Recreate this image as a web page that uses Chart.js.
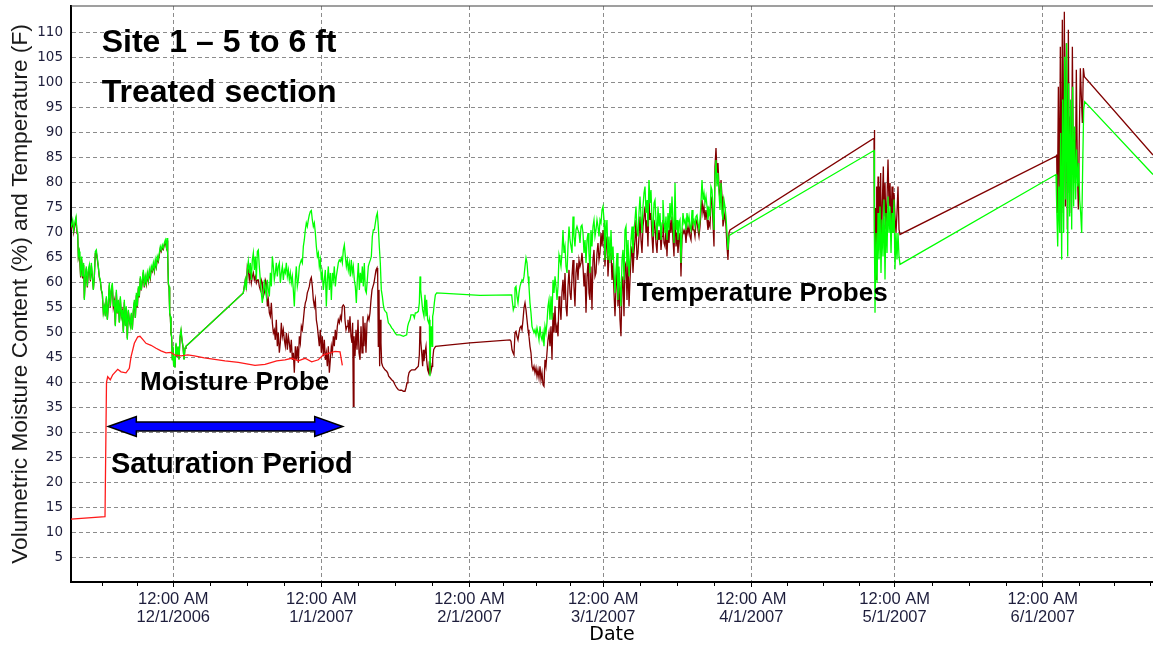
<!DOCTYPE html>
<html>
<head>
<meta charset="utf-8">
<title>Site 1 – 5 to 6 ft, Treated section</title>
<script src="https://cdn.jsdelivr.net/npm/chart.js@4.4.1/dist/chart.umd.min.js"></script>
<style>
  html, body { margin: 0; padding: 0; background: #ffffff; }
  #wrap { width: 1153px; height: 647px; }
</style>
</head>
<body>
<div id="wrap"><canvas id="chart" width="1153" height="647"></canvas></div>
<script>
// Day numbers count from 12:00 AM 11/1/2006 (day 0).
const monthStarts = [0, 30, 61, 92, 120, 151, 181, 212, 242];
const majorTickDays = [30, 61, 92, 120, 151, 181, 212];
const majorTickLabels = [
  ['12:00 AM', '12/1/2006'],
  ['12:00 AM', '1/1/2007'],
  ['12:00 AM', '2/1/2007'],
  ['12:00 AM', '3/1/2007'],
  ['12:00 AM', '4/1/2007'],
  ['12:00 AM', '5/1/2007'],
  ['12:00 AM', '6/1/2007']
];
const yTickValues = [5, 10, 15, 20, 25, 30, 35, 40, 45, 50, 55, 60, 65, 70, 75, 80, 85, 90, 95, 100, 105, 110];

// Volumetric moisture content (%), [day, value]
const moistureProbe = [
  [8.6,12.6],[15.71,13.1],[16.02,40.0],[16.27,41.1],[16.82,40.5],[17.32,41.5],[18.37,42.6],[19.06,42.1],
  [20.10,41.9],[20.80,42.8],[21.15,45.1],[21.85,47.8],[22.56,49.1],[23.04,49.2],[23.60,48.6],[24.29,47.8],
  [25.34,47.4],[26.39,46.8],[27.43,46.3],[28.48,45.9],[29.53,46.0],[30.22,45.5],[31.62,45.3],[33.02,45.5],
  [34.41,45.3],[36.50,44.9],[40.83,44.3],[43.62,44.0],[47.11,43.4],[49.20,43.6],[50.61,44.0],[51.65,44.3],
  [53.39,44.5],[54.79,44.8],[56.18,44.3],[57.58,44.8],[58.98,44.1],[60.37,44.5],[61.42,45.5],[62.46,45.8],
  [63.87,46.2],[64.91,46.1],[65.39,43.4]
];

// Temperature probe (F), green trace, [day, value]
const tempProbeGreen = [
  [8.6,71.0],[8.94,72.5],[9.15,70.5],[9.43,72.2],[9.64,73.1],[9.85,70.2],[9.99,69.9],[10.13,65.2],[10.33,66.2],
  [10.47,64.5],[10.61,61.2],[10.82,65.2],[11.03,61.2],[11.24,63.9],[11.38,56.5],[11.59,61.2],[11.80,63.2],
  [12.01,59.2],[12.22,62.5],[12.43,63.5],[12.64,60.5],[12.85,63.9],[13.06,61.2],[13.27,58.5],[13.47,61.2],
  [13.68,66.2],[13.89,66.5],[14.10,64.9],[14.31,63.2],[14.52,61.2],[14.73,60.5],[14.94,58.5],[15.15,57.9],
  [15.36,53.9],[15.57,55.2],[15.78,53.2],[15.99,57.2],[16.20,52.5],[16.41,55.9],[16.61,59.9],[16.82,55.2],
  [17.03,58.5],[17.24,59.9],[17.45,55.2],[17.66,56.5],[17.87,51.2],[18.08,58.5],[18.29,53.9],[18.50,56.5],
  [18.71,51.9],[18.92,57.2],[19.13,53.2],[19.34,54.5],[19.55,49.9],[19.75,56.5],[19.96,51.2],[20.17,55.2],
  [20.38,48.5],[20.59,54.5],[20.80,52.5],[21.01,51.2],[21.22,53.9],[21.43,50.5],[21.64,54.5],[21.85,56.5],
  [22.06,52.9],[22.27,57.9],[22.48,55.2],[22.69,59.2],[22.89,57.2],[23.10,61.2],[23.31,58.5],[23.52,60.5],
  [23.73,62.5],[23.94,59.2],[24.15,61.2],[24.36,59.9],[24.57,61.9],[24.78,60.5],[24.99,62.5],[25.20,61.2],
  [25.41,63.2],[25.62,62.5],[25.83,63.9],[26.04,62.5],[26.24,64.5],[26.45,63.2],[26.66,65.2],[26.87,64.5],
  [27.08,65.9],[27.29,67.2],[27.50,66.5],[27.71,67.5],[27.92,66.9],[28.13,67.9],[28.34,68.5],[28.55,67.2],
  [28.69,68.9],[28.83,65.9],[28.97,59.9],[29.11,59.2],[29.25,53.9],[29.39,53.2],[29.52,49.9],[29.66,49.2],
  [29.80,44.5],[29.94,47.2],[30.08,43.2],[30.22,45.2],[30.36,42.9],[30.57,47.9],[30.78,45.2],[30.99,47.2],
  [31.20,44.5],[31.41,49.2],[31.62,50.5],[31.83,48.5],[32.04,47.2],[32.25,44.5],[32.46,46.9],[32.66,47.2],
  [44.66,57.9],[44.87,59.2],[45.08,60.5],[45.29,58.5],[45.50,62.5],[45.71,64.2],[45.92,61.9],[46.13,63.9],
  [46.34,60.5],[46.55,64.5],[46.76,65.9],[46.97,62.5],[47.18,65.2],[47.39,60.5],[47.60,66.2],[47.80,66.5],
  [48.01,63.2],[48.22,60.5],[48.43,57.9],[48.64,55.9],[48.85,57.9],[49.06,60.5],[49.27,58.5],[49.48,57.2],
  [49.69,60.5],[49.90,58.5],[50.11,57.2],[50.32,61.9],[50.53,59.2],[50.74,65.2],[50.95,63.2],[51.15,60.5],
  [51.36,61.9],[51.57,63.9],[51.78,61.2],[51.99,63.2],[52.20,63.9],[52.41,59.9],[52.62,61.9],[52.83,63.2],
  [53.04,60.5],[53.25,62.5],[53.46,61.9],[53.67,63.9],[53.88,61.2],[54.09,62.5],[54.29,60.5],[54.50,61.9],
  [54.71,59.9],[54.92,61.2],[55.13,58.5],[55.34,55.2],[55.55,60.5],[55.76,63.2],[55.97,59.2],[56.18,60.5],
  [56.39,63.2],[56.60,63.9],[56.81,64.5],[57.02,63.9],[57.23,67.2],[57.43,68.5],[57.64,70.5],[57.85,71.9],
  [58.06,71.2],[58.27,72.5],[58.48,73.5],[58.69,74.2],[58.90,74.4],[59.11,72.5],[59.32,71.2],[59.53,71.9],
  [59.74,69.9],[59.95,67.2],[60.16,65.2],[60.37,65.9],[60.57,63.2],[60.78,64.5],[60.99,60.5],[61.20,61.9],
  [61.41,58.5],[61.62,60.5],[61.83,62.5],[62.04,55.2],[62.25,60.5],[62.46,63.2],[62.67,58.5],[62.88,61.9],
  [63.09,56.5],[63.30,61.9],[63.51,60.5],[63.71,63.2],[63.92,59.2],[64.13,61.2],[64.34,62.5],[64.55,63.9],
  [64.76,64.5],[64.97,64.2],[65.18,64.9],[65.39,63.9],[65.60,66.5],[65.81,67.5],
  [66.02,65.2],[66.23,63.2],[66.44,64.5],[66.64,62.5],[66.85,63.9],[67.06,61.2],[67.27,64.5],[67.48,61.9],
  [67.69,63.2],[67.90,60.5],[68.11,59.2],[68.32,55.9],[68.53,60.5],[68.74,63.9],[68.95,58.5],[69.16,61.9],
  [69.37,59.9],[69.58,63.2],[69.78,59.2],[69.99,63.9],[70.20,58.5],[70.41,57.9],[70.62,60.5],[70.83,63.2],
  [71.04,63.9],[71.25,64.5],[71.46,65.2],[71.67,69.2],[71.88,70.5],[72.09,70.5],[72.30,71.9],[72.51,73.2],
  [72.72,73.9],[72.92,71.2],[73.13,67.2],[73.34,63.9],[73.55,58.5],[73.76,57.2],[73.97,55.5],[74.18,54.5],
  [74.39,54.2],[74.67,53.9],[75.02,51.9],[75.37,51.5],[75.72,50.9],[76.06,50.5],[76.41,49.9],[76.76,49.5],
  [77.46,49.5],[78.16,49.2],[78.86,49.5],[79.07,51.2],[79.27,51.9],[79.55,52.5],[79.76,53.5],[80.25,53.5],
  [80.46,52.9],[80.67,53.9],[80.95,53.9],[81.30,54.2],[81.51,55.9],[81.65,61.2],[81.79,58.5],[82.00,56.5],
  [82.20,54.5],[82.48,53.2],[82.69,57.5],[82.90,53.2],[83.04,56.5],[83.25,52.5],[83.46,51.9],[83.60,52.5],
  [83.74,41.2],[83.88,48.5],[84.02,51.2],[84.16,47.2],[84.30,53.2],[84.44,53.9],[84.65,55.9],[84.86,57.5],
  [85.14,57.9],[94.21,57.4],[100.84,57.5],
  [100.98,56.2],[101.18,54.5],[101.39,55.2],[101.53,58.9],[101.74,59.2],[101.95,57.2],[102.16,55.9],[102.37,57.9],
  [102.58,59.2],[102.79,59.9],[103.00,60.5],[103.21,60.2],[103.42,61.2],[103.63,63.2],[103.84,64.9],[104.05,63.9],
  [104.26,61.2],[104.46,59.2],[104.67,55.9],[104.88,53.9],[105.09,51.2],[105.30,50.5],[105.51,49.9],[105.72,50.5],
  [105.93,49.5],[106.14,50.9],[106.35,49.9],[106.56,48.5],[106.77,51.2],[106.98,49.2],[107.19,48.5],[107.40,49.9],
  [107.60,47.2],[107.81,51.2],[108.02,49.9],[108.23,51.9],[108.44,55.2],[108.65,56.5],[108.86,52.5],[109.07,57.2],
  [109.28,52.5],[109.49,60.5],[109.70,57.9],[109.91,61.2],[110.12,59.2],[110.33,56.5],[110.54,59.2],[110.75,65.5],
  [110.95,64.5],[111.16,63.2],[111.37,65.9],[111.58,70.5],[111.79,65.9],[112.00,67.2],[112.21,63.2],[112.42,61.9],
  [112.63,67.2],[112.84,71.2],[113.05,68.5],[113.26,67.2],[113.47,65.9],[113.68,73.2],[113.88,69.2],[114.09,67.2],
  [114.30,70.5],[114.51,71.2],[114.72,70.5],[114.93,69.9],[115.14,67.9],[115.35,71.2],[115.56,71.5],[115.77,69.9],
  [115.98,65.9],[116.19,68.5],[116.40,63.9],[116.61,68.5],[116.82,69.9],[117.02,65.9],[117.23,61.9],[117.44,70.5],
  [117.65,67.2],[117.86,71.2],[118.07,72.5],[118.28,69.2],[118.49,70.5],[118.70,72.5],[118.91,71.2],[119.12,69.2],
  [119.33,72.5],[119.54,71.9],[119.75,74.5],[119.96,75.2],[120.17,72.5],[120.37,64.5],[120.58,70.5],[120.79,72.5],
  [121.00,64.5],[121.21,69.2],[121.42,63.9],
  [121.63,70.5],[121.84,64.5],[122.05,67.2],[122.26,61.9],[122.47,57.9],[122.68,62.5],[122.89,65.9],[123.09,56.5],
  [123.30,63.2],[123.51,59.2],[123.72,55.2],[123.93,64.5],[124.14,66.5],[124.35,60.5],[124.56,70.5],[124.77,71.2],
  [124.98,63.2],[125.19,68.5],[125.40,61.2],[125.61,64.5],[125.82,68.5],[126.03,71.2],[126.23,65.9],[126.44,70.5],
  [126.65,72.5],[126.86,75.2],[127.07,70.5],[127.28,69.2],[127.49,73.9],[127.70,77.2],[127.91,73.2],[128.12,69.9],
  [128.33,75.2],[128.54,77.9],[128.75,79.2],[128.96,73.9],[129.17,76.5],[129.37,71.2],[129.58,80.5],[129.79,75.9],
  [130.00,78.5],[130.21,72.5],[130.42,69.2],[130.63,75.9],[130.84,76.5],[131.05,72.5],[131.26,68.5],[131.47,75.2],
  [131.68,71.2],[131.89,73.9],[132.10,68.5],[132.31,71.9],[132.51,76.5],[132.72,72.5],[132.93,69.9],[133.14,73.2],
  [133.35,68.5],[133.56,73.9],[133.77,70.5],[133.98,75.9],[134.19,72.5],[134.40,77.2],[134.61,71.9],[134.82,67.9],
  [135.03,79.9],[135.24,70.5],[135.45,72.5],[135.65,68.5],[135.86,71.9],[136.07,72.5],[136.28,63.9],[136.49,70.5],
  [136.70,73.9],[136.91,71.9],[137.12,72.5],[137.33,70.5],[137.54,73.9],[137.75,71.9],[137.96,73.2],[138.17,71.2],
  [138.38,70.5],[138.59,74.5],[138.79,71.9],[139.00,72.5],[139.21,71.2],[139.42,73.2],[139.63,73.5],[139.84,71.9],
  [140.05,70.5],[140.26,72.5],[140.47,75.9],[140.68,80.5],[140.89,76.5],[141.10,77.9],[141.31,75.9],[141.52,77.2],
  [141.73,75.2],[141.93,72.5],[142.14,74.5],[142.35,73.2],[142.56,79.2],[142.77,78.5],[142.98,74.5],[143.19,70.5],
  [143.40,81.2],[143.61,84.5],[143.82,79.2],[144.03,81.9],[144.24,77.9],[144.45,74.5],[144.66,79.9],[144.87,73.9],
  [145.07,72.5],[145.28,76.5],[145.49,75.2],[145.70,73.2],[145.91,69.9],[146.12,66.5],[146.33,69.2],[146.54,69.5],
  [176.69,86.4],[176.76,69.9],[176.90,53.9],[177.11,69.9],[177.32,59.9],[177.53,73.9],[177.73,64.6],[177.94,75.2],
  [178.15,61.9],[178.36,72.6],[178.57,65.2],[178.78,76.6],[178.99,60.6],[179.20,73.9],[179.41,65.9],[179.62,77.2],
  [179.83,69.9],[180.04,75.2],[180.25,65.9],[180.46,73.9],[180.66,69.9],[180.87,76.6],[181.08,62.6],[181.29,69.9],
  [181.50,64.6],[181.71,69.9],[181.92,65.2],[182.13,63.6],
  [214.79,81.6],[214.93,75.2],[215.14,67.2],[215.35,79.2],[215.56,69.9],[215.76,89.9],[215.97,64.6],[216.18,96.6],
  [216.39,69.9],[216.60,105.2],[216.81,76.6],[217.02,107.9],[217.23,65.2],[217.44,99.9],[217.65,73.2],[217.86,96.6],
  [218.07,70.6],[218.28,99.2],[218.48,75.2],[218.69,91.2],[218.90,76.6],[219.11,86.6],[219.32,79.2],[219.53,83.9],
  [219.74,76.6],[219.95,73.9],[220.16,69.9],[220.37,83.2],[220.58,94.6],[220.79,96.2],[235.09,81.6]
];

// Temperature probe (F), dark red trace, [day, value]
const tempProbeMaroon = [
  [8.6,70.5],[8.94,72.0],[9.15,70.0],[9.43,71.5],[9.64,72.6],[9.85,69.8],[9.99,69.6],[10.13,65.0],[10.33,66.0],
  [10.61,61.0],[10.82,64.6],[11.03,60.8],[11.24,63.5],[11.38,56.8],[11.59,61.0],[11.80,62.8],[12.01,59.0],
  [12.22,62.0],[12.43,63.0],[12.64,60.2],[12.85,63.4],[13.06,61.0],[13.27,58.6],[13.47,61.0],[13.68,65.8],
  [13.89,66.0],[14.10,64.6],[14.31,63.0],[14.52,61.0],[14.73,60.2],[14.94,58.4],[15.15,57.6],[15.36,54.0],
  [15.57,55.0],[15.78,53.4],[15.99,56.8],[16.20,52.6],[16.41,55.6],[16.61,59.4],[16.82,55.0],[17.03,58.2],
  [17.24,59.5],[17.45,55.0],[17.66,56.2],[17.87,51.4],[18.08,58.0],[18.29,53.8],[18.50,56.2],[18.71,52.0],
  [18.92,56.8],[19.13,53.2],[19.34,54.2],[19.55,50.2],[19.75,56.0],[19.96,51.4],[20.17,55.0],[20.38,48.8],
  [20.59,54.2],[20.80,52.4],[21.01,51.4],[21.22,53.6],[21.43,50.6],[21.64,54.2],[21.85,56.0],[22.06,52.9],
  [22.27,57.4],[22.48,55.0],[22.69,58.8],[22.89,57.0],[23.10,60.8],[23.31,58.4],[23.52,60.2],[23.73,62.0],
  [23.94,59.0],[24.15,60.8],[24.36,59.6],[24.57,61.5],[24.78,60.2],[24.99,62.0],[25.20,60.8],[25.41,62.8],
  [25.62,62.2],[25.83,63.4],[26.04,62.2],[26.24,64.0],[26.45,63.0],[26.66,64.8],[26.87,64.2],[27.08,65.5],
  [27.29,66.8],[27.50,66.2],[27.71,67.0],[27.92,66.6],[28.13,67.5],[28.34,68.0],[28.55,67.0],[28.69,68.4],
  [28.83,65.6],[28.97,59.6],[29.11,59.0],[29.25,53.8],[29.39,53.0],[29.52,49.8],[29.66,49.0],[29.80,44.6],
  [29.94,47.0],[30.08,43.4],[30.22,45.0],[30.36,43.0],[30.57,47.6],[30.78,45.0],[30.99,47.0],[31.20,44.6],
  [31.41,48.8],[31.62,50.2],[31.83,48.4],[32.04,47.0],[32.25,44.6],[32.46,46.8],[32.66,47.2],
  [44.66,57.9],[44.87,59.2],[45.08,60.5],[45.29,59.2],[45.50,63.2],[45.71,62.5],[45.92,60.5],[46.13,61.9],
  [46.34,59.9],[46.55,61.2],[46.76,61.9],[46.97,60.5],[47.18,61.2],[47.39,59.9],[47.60,60.5],[47.80,60.5],
  [48.01,59.2],[48.22,58.5],[48.43,60.5],[48.64,59.9],[48.85,57.2],[49.06,57.9],[49.27,60.5],[49.48,59.9],
  [49.69,55.2],[49.90,56.5],[50.11,53.9],[50.32,53.2],[50.53,55.9],[50.74,51.9],[50.95,49.9],[51.15,50.5],
  [51.36,48.5],[51.57,52.5],[51.78,47.2],[51.99,49.9],[52.20,45.9],[52.41,47.9],[52.62,51.9],[52.83,49.2],
  [53.04,50.5],[53.25,48.5],[53.46,47.2],[53.67,49.9],[53.88,46.5],[54.09,49.2],[54.29,47.9],[54.50,45.9],
  [54.71,48.5],[54.92,44.5],[55.13,45.9],[55.34,41.9],[55.55,47.2],[55.76,44.5],[55.97,47.2],[56.18,43.9],
  [56.39,49.2],[56.60,47.9],[56.81,51.2],[57.02,50.5],[57.23,52.5],[57.43,54.5],[57.64,55.9],[57.85,56.5],
  [58.06,57.9],[58.27,58.5],[58.48,59.2],[58.69,60.5],[58.90,61.0],[59.11,59.2],[59.32,56.5],[59.53,55.2],
  [59.74,56.5],[59.95,52.5],[60.16,51.2],[60.37,49.2],[60.57,47.2],[60.78,50.5],[60.99,45.9],[61.20,49.2],
  [61.41,45.2],[61.62,48.5],[61.83,44.5],[62.04,45.9],[62.25,43.2],[62.46,47.2],[62.67,41.9],[62.88,44.5],
  [63.09,47.2],[63.30,45.9],[63.51,49.2],[63.71,47.2],[63.92,50.5],[64.13,48.5],[64.34,51.2],[64.55,52.5],
  [64.76,51.9],[64.97,53.2],[65.18,52.5],[65.39,55.2],[65.60,55.5],[65.81,55.2],
  [65.95,52.5],[66.16,50.5],[66.37,51.2],[66.57,52.5],[66.78,49.9],[66.99,53.2],[67.20,49.2],[67.41,47.9],
  [67.55,51.9],[67.69,35.2],[67.83,49.2],[68.04,45.2],[68.25,50.5],[68.46,46.5],[68.67,52.5],[68.88,45.9],
  [69.09,44.5],[69.30,51.2],[69.51,45.9],[69.71,53.2],[69.92,47.2],[70.13,51.9],[70.34,45.9],[70.55,51.9],
  [70.76,53.2],[70.97,52.5],[71.18,53.9],[71.39,56.5],[71.60,58.5],[71.81,59.2],[72.02,59.9],[72.23,61.2],
  [72.44,62.5],[72.65,62.9],[72.79,61.2],[72.92,47.2],[73.06,58.5],[73.20,43.2],[73.34,52.5],[73.48,47.9],
  [73.62,43.9],[73.83,43.2],[74.04,42.9],[74.32,42.5],[74.67,42.2],[74.88,41.9],[75.09,41.2],[75.37,40.9],
  [75.72,40.5],[76.06,40.2],[76.41,39.5],[76.76,38.9],[77.11,38.5],[77.46,38.4],[77.81,38.4],[78.16,38.2],
  [78.51,38.2],[78.72,38.9],[78.93,39.9],[79.13,40.9],[79.34,41.9],[79.55,42.2],[79.90,42.5],[80.60,42.5],
  [81.30,43.2],[81.51,45.5],[81.65,51.2],[81.79,48.5],[82.00,45.9],[82.20,43.2],[82.34,46.5],[82.48,44.2],
  [82.69,45.9],[82.90,47.2],[83.04,44.5],[83.25,42.5],[83.46,41.9],[83.60,44.2],[83.74,41.5],[83.88,43.9],
  [84.02,42.5],[84.16,43.2],[84.30,44.5],[84.51,46.5],[84.72,46.9],[84.93,47.2],[87.93,47.5],[92.11,47.9],
  [100.49,48.5],[100.70,48.2],[100.91,46.5],[101.12,45.9],[101.32,45.5],[101.53,49.9],[101.74,50.2],[101.95,49.2],
  [102.16,48.5],[102.37,49.9],[102.58,50.9],[102.79,51.2],[103.00,50.5],[103.21,52.5],[103.42,54.9],[103.63,55.9],
  [103.84,54.5],[104.05,52.5],[104.26,50.5],[104.46,49.2],[104.67,47.2],[104.88,45.9],[105.09,43.2],[105.30,42.5],
  [105.51,43.2],[105.72,41.9],[105.93,42.9],[106.14,41.2],[106.35,42.5],[106.56,40.9],[106.77,43.2],[106.98,40.5],
  [107.19,41.9],[107.40,39.5],[107.60,39.2],[107.81,44.5],[108.02,43.2],[108.23,45.9],[108.44,48.5],[108.65,49.9],
  [108.86,47.2],[109.07,51.2],[109.28,44.5],[109.49,53.9],[109.70,49.9],[109.91,55.2],[110.12,49.9],[110.33,51.2],
  [110.54,49.2],[110.75,57.2],[110.95,55.2],[111.16,52.5],[111.37,57.9],[111.58,60.5],[111.79,56.5],[112.00,61.9],
  [112.21,55.2],[112.42,53.2],[112.63,59.2],[112.84,62.5],[113.05,57.9],[113.26,56.5],[113.47,61.2],[113.68,64.5],
  [113.88,59.2],[114.09,55.2],[114.30,61.9],[114.51,63.9],[114.72,60.5],[114.93,64.5],[115.14,63.2],[115.35,63.9],
  [115.56,65.9],[115.77,63.2],[115.98,59.2],[116.19,61.9],[116.40,53.9],[116.61,61.2],[116.82,63.9],[117.02,57.9],
  [117.23,56.5],[117.44,63.2],[117.65,54.5],[117.86,64.5],[118.07,66.5],[118.28,61.2],[118.49,61.9],[118.70,65.9],
  [118.91,67.9],[119.12,64.5],[119.33,65.9],[119.54,69.9],[119.75,67.2],[119.96,70.5],[120.17,68.5],[120.37,63.2],
  [120.58,67.2],[120.79,69.2],[121.00,61.2],[121.21,65.2],
  [121.63,65.9],[121.84,60.5],[122.05,63.9],[122.26,57.9],[122.47,53.2],[122.68,59.2],[122.89,62.5],[123.09,55.2],
  [123.30,60.5],[123.51,52.5],[123.72,49.2],[123.93,59.2],[124.14,61.2],[124.35,53.2],[124.56,63.2],[124.77,63.9],
  [124.98,56.5],[125.19,64.5],[125.40,55.2],[125.61,60.5],[125.82,65.2],[126.03,67.2],[126.23,61.9],[126.44,65.9],
  [126.65,68.5],[126.86,72.5],[127.07,64.5],[127.28,65.9],[127.49,69.2],[127.70,73.2],[127.91,68.5],[128.12,65.9],
  [128.33,71.2],[128.54,73.2],[128.75,75.2],[128.96,69.9],[129.17,72.5],[129.37,67.2],[129.58,76.5],[129.79,72.5],
  [130.00,73.9],[130.21,69.2],[130.42,65.9],[130.63,72.5],[130.84,71.2],[131.05,67.9],[131.26,65.9],[131.47,70.5],
  [131.68,68.5],[131.89,70.5],[132.10,66.5],[132.31,69.2],[132.51,72.5],[132.72,67.9],[132.93,67.2],[133.14,70.5],
  [133.35,65.2],[133.56,70.5],[133.77,67.9],[133.98,72.5],[134.19,69.9],[134.40,73.2],[134.61,68.5],[134.82,65.2],
  [135.03,75.2],[135.24,67.2],[135.45,69.9],[135.65,65.9],[135.86,68.5],[136.07,69.9],[136.28,61.2],[136.49,68.5],
  [136.70,70.5],[136.91,69.9],[137.12,70.5],[137.33,67.9],[137.54,71.2],[137.75,69.9],[137.96,71.2],[138.17,69.2],
  [138.38,68.5],[138.59,72.5],[138.79,70.5],[139.00,70.5],[139.21,69.2],[139.42,71.9],[139.63,72.5],[139.84,70.5],
  [140.05,69.2],[140.26,71.2],[140.47,73.9],[140.68,76.5],[140.89,73.9],[141.10,75.2],[141.31,72.5],[141.52,74.5],
  [141.73,72.5],[141.93,70.5],[142.14,71.9],[142.35,71.2],[142.56,75.9],[142.77,77.2],[142.98,71.9],[143.19,67.2],
  [143.40,83.2],[143.61,86.9],[143.82,81.9],[144.03,83.9],[144.24,79.2],[144.45,75.9],[144.66,80.5],[144.87,77.2],
  [145.07,71.2],[145.28,72.5],[145.49,73.9],[145.70,71.2],[145.91,67.2],[146.12,64.5],[146.33,69.9],[146.54,70.5],
  [176.69,88.9],[176.76,90.5],[176.83,69.9],[176.97,74.9],[177.11,60.6],[177.25,79.2],[177.39,64.6],[177.53,81.2],
  [177.66,66.5],[177.80,79.2],[177.94,69.9],[178.08,81.9],[178.22,65.9],[178.43,75.9],[178.64,83.2],[178.78,73.2],
  [178.99,79.9],[179.20,70.6],[179.41,76.6],[179.62,84.6],[179.83,75.2],[180.04,79.9],[180.25,71.2],[180.46,79.2],
  [180.66,69.9],[180.87,77.9],[181.08,73.2],[181.29,69.9],[181.50,73.9],[181.71,79.2],[181.92,70.6],[182.13,69.6],
  [214.79,85.3],[214.93,85.6],[215.07,73.9],[215.28,99.2],[215.49,72.6],[215.69,107.2],[215.90,69.9],[216.11,112.6],
  [216.32,73.9],[216.53,114.2],[216.74,75.2],[216.95,107.9],[217.16,70.6],[217.37,110.6],[217.58,77.9],[217.79,93.2],
  [218.00,73.9],[218.21,107.2],[218.42,81.9],[218.63,88.6],[218.84,79.9],[219.04,102.6],[219.25,83.2],[219.46,74.6],
  [219.67,89.9],[219.88,102.9],[220.09,97.2],[220.30,91.9],[220.51,102.9],[220.72,101.2],[235.09,85.5]
];

// Text placed on the plot, anchored in data units (day, value); drawn left-aligned on the baseline
const captions = [
  { text: 'Site 1 \u2013 5 to 6 ft', day: 15.02, value: 106.1, size: 32 },
  { text: 'Treated section', day: 15.02, value: 96.2, size: 32 },
  { text: 'Moisture Probe', day: 23.03, value: 38.5, size: 26 },
  { text: 'Saturation Period', day: 16.96, value: 21.9, size: 29 },
  { text: 'Temperature Probes', day: 127.01, value: 56.2, size: 26 }
];
const saturationArrow = { from: 16.40, to: 65.47, value: 31.15 };

const FONT_SANS = '"Liberation Sans", Arial, Helvetica, sans-serif';
const FONT_WIDE = '"DejaVu Sans", Verdana, sans-serif';

function toPoints(pairs) {
  return pairs.map(p => ({ x: p[0], y: p[1] }));
}

// Quarter-month minor tick positions along the date axis
const minorTickDays = [];
for (let i = 0; i < monthStarts.length - 1; i++) {
  const len = monthStarts[i + 1] - monthStarts[i];
  for (let k = 1; k < 4; k++) minorTickDays.push(monthStarts[i] + len * k / 4);
}

// Keep the plot frame fixed: no extra room reserved for half-labels at the axis ends
function clearScalePadding(scale) {
  scale.paddingTop = 0;
  scale.paddingBottom = 0;
  scale.paddingLeft = 0;
  scale.paddingRight = 0;
}

const plotDecorations = {
  id: 'plotDecorations',
  afterDatasetsDraw(chart) {
    const { ctx } = chart;
    const xs = chart.scales.x, ys = chart.scales.y;
    ctx.save();
    // double-headed arrow marking the saturation period
    const x1 = xs.getPixelForValue(saturationArrow.from);
    const x2 = xs.getPixelForValue(saturationArrow.to);
    const yc = ys.getPixelForValue(saturationArrow.value);
    const headLen = 28, headHalf = 10, shaftHalf = 4.5;
    ctx.beginPath();
    ctx.moveTo(x1, yc);
    ctx.lineTo(x1 + headLen, yc - headHalf);
    ctx.lineTo(x1 + headLen, yc - shaftHalf);
    ctx.lineTo(x2 - headLen, yc - shaftHalf);
    ctx.lineTo(x2 - headLen, yc - headHalf);
    ctx.lineTo(x2, yc);
    ctx.lineTo(x2 - headLen, yc + headHalf);
    ctx.lineTo(x2 - headLen, yc + shaftHalf);
    ctx.lineTo(x1 + headLen, yc + shaftHalf);
    ctx.lineTo(x1 + headLen, yc + headHalf);
    ctx.closePath();
    ctx.fillStyle = '#0000ff';
    ctx.fill();
    ctx.lineWidth = 1.5;
    ctx.strokeStyle = '#000000';
    ctx.stroke();

    // captions
    ctx.fillStyle = '#000000';
    ctx.textAlign = 'left';
    ctx.textBaseline = 'alphabetic';
    captions.forEach(c => {
      ctx.font = 'bold ' + c.size + 'px ' + FONT_SANS;
      ctx.fillText(c.text, xs.getPixelForValue(c.day), ys.getPixelForValue(c.value));
    });
    ctx.restore();
  },
  afterDraw(chart) {
    const { ctx, chartArea } = chart;
    const xs = chart.scales.x;
    ctx.save();
    // frame line along the top of the plot
    ctx.strokeStyle = '#404040';
    ctx.lineWidth = 1.2;
    ctx.beginPath();
    ctx.moveTo(chartArea.left, chartArea.top);
    ctx.lineTo(chartArea.right, chartArea.top);
    ctx.stroke();
    // minor tick marks under the date axis
    ctx.strokeStyle = '#000000';
    ctx.lineWidth = 1;
    ctx.beginPath();
    minorTickDays.forEach(d => {
      if (d <= xs.min || d >= xs.max) return;
      const px = Math.round(xs.getPixelForValue(d)) + 0.5;
      ctx.moveTo(px, chartArea.bottom);
      ctx.lineTo(px, chartArea.bottom + 4);
    });
    ctx.stroke();
    ctx.restore();
  }
};

new Chart(document.getElementById('chart'), {
  type: 'line',
  data: {
    datasets: [
      {
        label: 'Moisture Probe',
        data: toPoints(moistureProbe),
        borderColor: '#ff1a1a',
        borderWidth: 1.3
      },
      {
        label: 'Temperature Probe 1',
        data: toPoints(tempProbeGreen),
        borderColor: '#00ff00',
        borderWidth: 1.3
      },
      {
        label: 'Temperature Probe 2',
        data: toPoints(tempProbeMaroon),
        borderColor: '#800000',
        borderWidth: 1.3
      }
    ]
  },
  options: {
    responsive: false,
    animation: false,
    devicePixelRatio: 1,
    elements: {
      point: { radius: 0, hoverRadius: 0 },
      line: { tension: 0, fill: false }
    },
    layout: { padding: { top: 6, right: 0, bottom: 0, left: 0 } },
    plugins: {
      legend: { display: false },
      tooltip: { enabled: false },
      title: { display: false }
    },
    scales: {
      x: {
        type: 'linear',
        position: 'bottom',
        min: 8.59,
        max: 235.09,
        afterBuildTicks: (scale) => { scale.ticks = majorTickDays.map(v => ({ value: v })); },
        afterFit: (scale) => { scale.height = 65; clearScalePadding(scale); },
        ticks: {
          autoSkip: false,
          maxRotation: 0,
          padding: 3,
          color: '#1e1e3c',
          font: { family: FONT_SANS, size: 16.5, lineHeight: 1.1 },
          callback: (value) => {
            const i = majorTickDays.indexOf(value);
            return i >= 0 ? majorTickLabels[i] : '';
          }
        },
        grid: {
          color: '#8c8c8c',
          lineWidth: 1,
          drawTicks: true,
          tickLength: 5,
          tickColor: '#000000',
          tickWidth: 1
        },
        border: { display: true, color: '#000000', width: 2, dash: [4, 3] },
        title: {
          display: true,
          text: 'Date',
          color: '#000000',
          font: { family: FONT_WIDE, size: 19, lineHeight: 1.2 },
          padding: { top: 0, bottom: 1 }
        }
      },
      y: {
        type: 'linear',
        position: 'left',
        min: 0,
        max: 115.35,
        afterBuildTicks: (scale) => { scale.ticks = yTickValues.map(v => ({ value: v })); },
        afterFit: (scale) => { scale.width = 71; clearScalePadding(scale); },
        ticks: {
          padding: 8,
          color: '#1e1e3c',
          font: { family: FONT_WIDE, size: 13.5 },
          callback: (value) => String(value)
        },
        grid: {
          color: '#8c8c8c',
          lineWidth: 1,
          drawTicks: false
        },
        border: { display: true, color: '#000000', width: 2, dash: [4, 3] },
        title: {
          display: true,
          text: 'Volumetric Moisture Content (%) and Temperature (F)',
          color: '#1a1a1a',
          font: { family: FONT_SANS, size: 22.7, lineHeight: 1.2 },
          padding: { top: 7, bottom: 0 }
        }
      }
    }
  },
  plugins: [plotDecorations]
});
</script>
</body>
</html>
